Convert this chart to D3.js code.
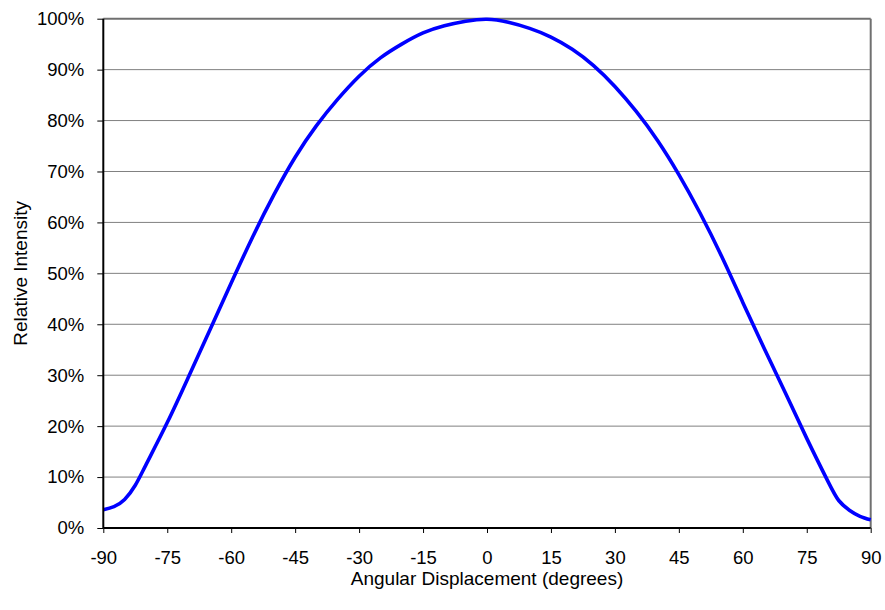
<!DOCTYPE html>
<html>
<head>
<meta charset="utf-8">
<script src="https://cdn.jsdelivr.net/npm/d3@7"></script>
<style>
  body { margin: 0; background: #fff; }
  svg text { font-family: "Liberation Sans", Arial, sans-serif; fill: #000; }
</style>
</head>
<body>
<div id="chart"></div>
<script>
// 1: DATA
const angles = [-90, -87.5, -85, -82.5, -80, -75, -70, -65, -60, -55, -50, -45, -40, -35, -30, -25, -20, -15, -10, -5,
                0, 5, 10, 15, 20, 25, 30, 35, 40, 45, 50, 55, 60, 65, 70, 75, 80, 82.5, 85, 87.5, 90];
const intensity = [3.6, 4.2, 5.6, 8.4, 12.4, 20.7, 29.7, 38.9, 48.1, 57.1, 65.4, 72.8, 79.0, 84.2, 88.7, 92.3, 95.0, 97.2, 98.6, 99.5,
                   99.9, 99.3, 98.1, 96.4, 94.0, 90.8, 86.7, 81.8, 76.1, 69.4, 61.8, 53.4, 44.3, 35.3, 26.5, 17.6, 9.1, 5.4, 3.5, 2.3, 1.6];
const xTicks = [-90, -75, -60, -45, -30, -15, 0, 15, 30, 45, 60, 75, 90];
const yTicks = [0, 10, 20, 30, 40, 50, 60, 70, 80, 90, 100];

const data = angles.map((a, i) => ({ angle: a, value: intensity[i] }));

// 2: LAYOUT
const W = 885, H = 610;
const margin = { top: 18.7, right: 14.3, bottom: 82, left: 103.3 };
const width = W - margin.left - margin.right;
const height = H - margin.top - margin.bottom;

const svg = d3.select("#chart").append("svg")
    .attr("width", W)
    .attr("height", H);

const g = svg.append("g")
    .attr("transform", `translate(${margin.left},${margin.top})`);

// 3: SCALES
const x = d3.scaleLinear().domain([-90, 90]).range([0, width]);
const y = d3.scaleLinear().domain([0, 100]).range([height, 0]);

// 4: GRIDLINES + FRAME
g.append("g")
    .selectAll("line")
    .data(yTicks.filter(t => t > 0 && t < 100))
    .join("line")
    .attr("x1", 0).attr("x2", width)
    .attr("y1", d => y(d)).attr("y2", d => y(d))
    .attr("stroke", "#808080")
    .attr("stroke-width", 1);

// top and right border (gray)
g.append("line")
    .attr("x1", 0).attr("x2", width).attr("y1", y(100)).attr("y2", y(100))
    .attr("stroke", "#707070").attr("stroke-width", 2);
g.append("line")
    .attr("x1", width).attr("x2", width).attr("y1", 0).attr("y2", height)
    .attr("stroke", "#707070").attr("stroke-width", 2);

// 5: LINE
const line = d3.line()
    .x(d => x(d.angle))
    .y(d => y(d.value))
    .curve(d3.curveNatural);

g.append("path")
    .datum(data)
    .attr("fill", "none")
    .attr("stroke", "#0000ff")
    .attr("stroke-width", 3.6)
    .attr("stroke-linejoin", "round")
    .attr("d", line);

// 6: AXES
const xAxis = g.append("g")
    .attr("transform", `translate(0,${height})`)
    .call(d3.axisBottom(x).tickValues(xTicks).tickSize(5).tickPadding(18).tickFormat(d => String(d)));

const yAxis = g.append("g")
    .call(d3.axisLeft(y).tickValues(yTicks).tickSize(6).tickPadding(13).tickFormat(d => d + "%"));

[xAxis, yAxis].forEach(ax => {
    ax.select(".domain").attr("stroke", "#000").attr("stroke-width", 2);
    ax.selectAll(".tick line").attr("stroke", "#000").attr("stroke-width", 1);
    ax.selectAll(".tick text")
        .style("font-size", "18.5px")
        .style("font-family", "'Liberation Sans', Arial, sans-serif");
});
xAxis.select(".domain").attr("d", `M0,0H${width}`);
yAxis.select(".domain").attr("d", `M0,0V${height}`);

// 7: LABELS
svg.append("text")
    .attr("x", margin.left + width / 2)
    .attr("y", 585)
    .attr("text-anchor", "middle")
    .style("font-size", "19px")
    .text("Angular Displacement (degrees)");

svg.append("text")
    .attr("transform", `translate(27,${margin.top + height / 2}) rotate(-90)`)
    .attr("text-anchor", "middle")
    .style("font-size", "19px")
    .text("Relative Intensity");
</script>
</body>
</html>
